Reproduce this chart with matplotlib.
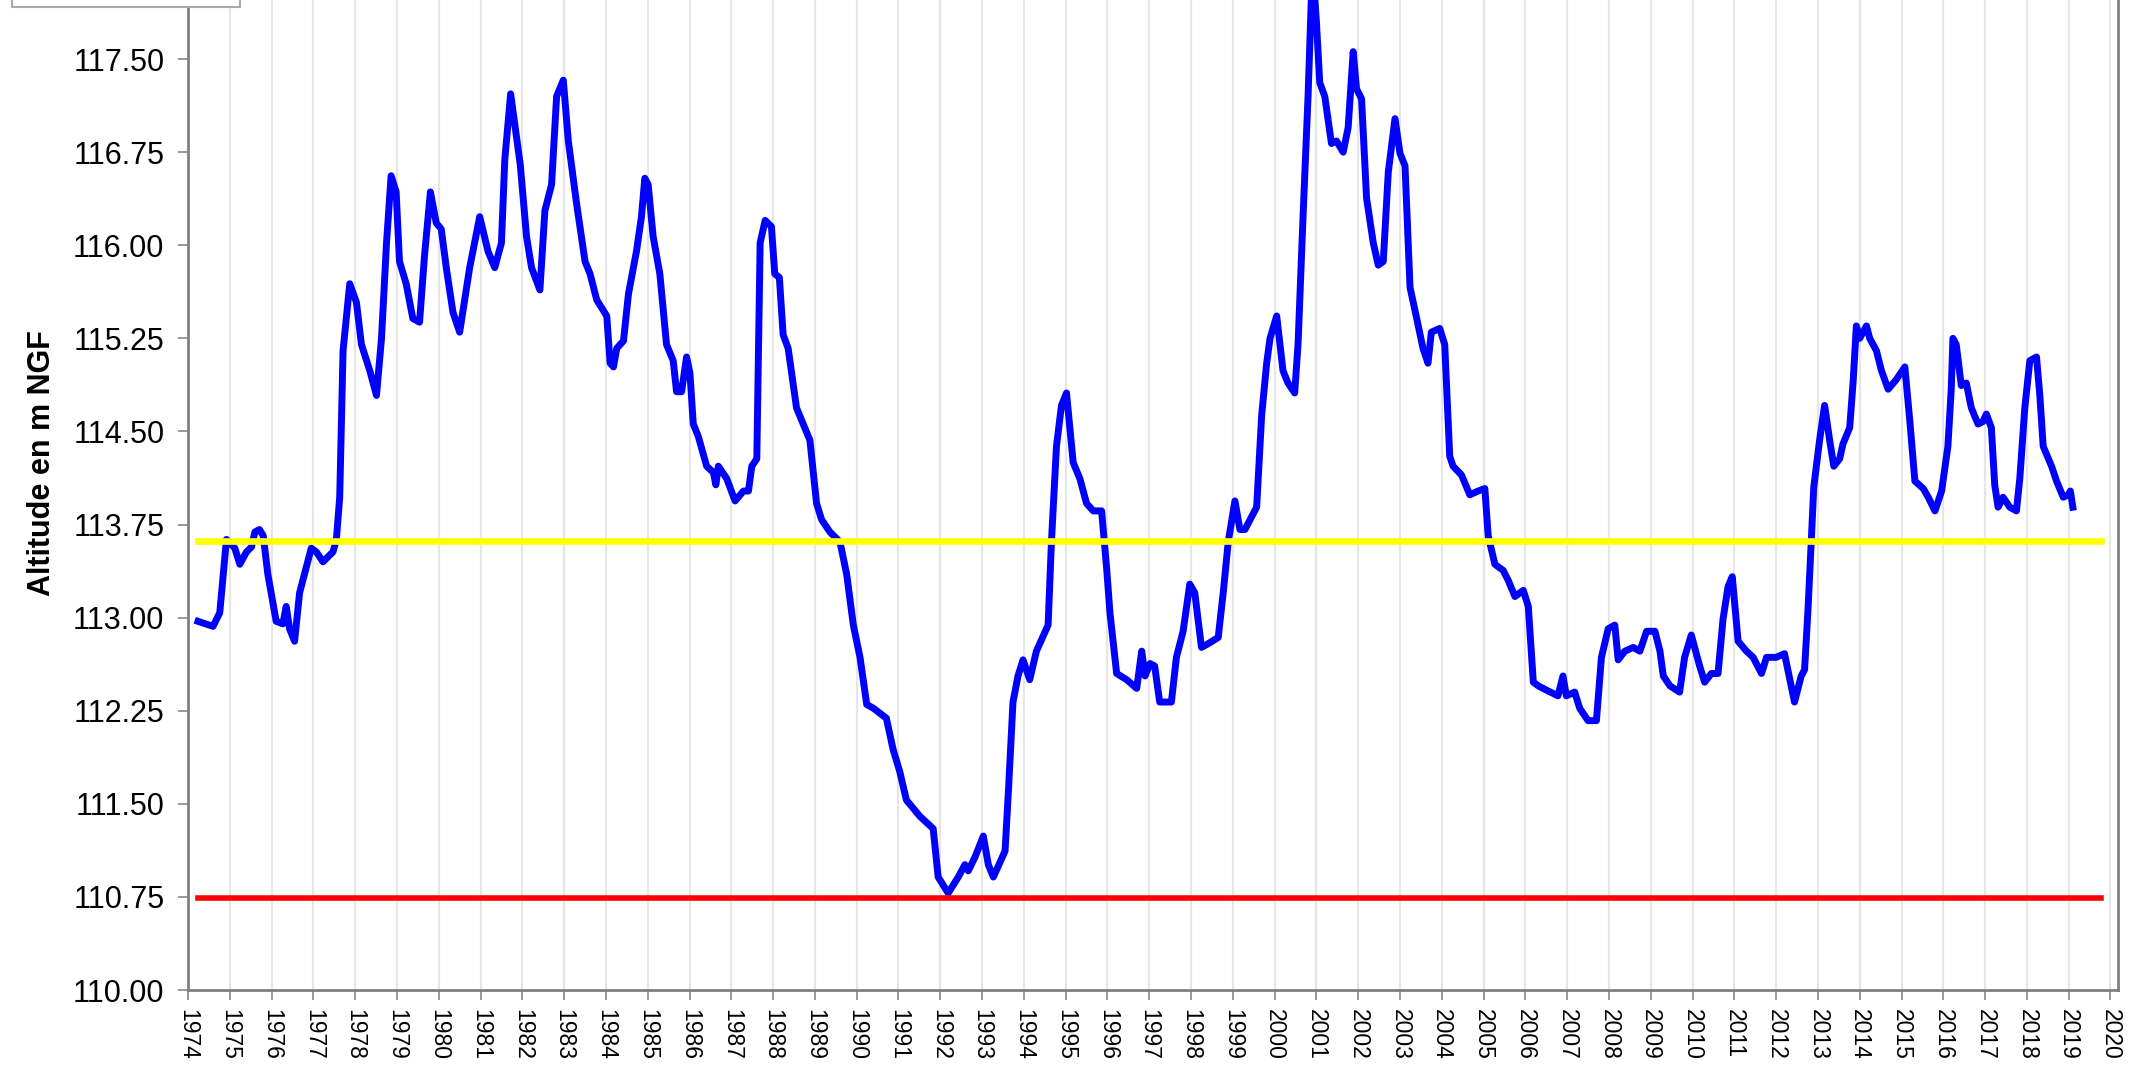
import matplotlib.pyplot as plt
from matplotlib.patches import Rectangle

plt.rcParams['font.family'] = ['Liberation Sans', 'DejaVu Sans']

# niveau piezometrique (annee decimale, altitude m NGF)
years = [
    1974.24, 1974.6, 1974.76, 1974.92, 1975.12, 1975.24, 1975.4, 1975.52, 1975.6, 1975.71,
    1975.8, 1975.91, 1976.11, 1976.27, 1976.35, 1976.43, 1976.55, 1976.67, 1976.95, 1977.07,
    1977.23, 1977.47, 1977.55, 1977.63, 1977.71, 1977.87, 1978.03, 1978.15, 1978.35, 1978.51,
    1978.63, 1978.75, 1978.86, 1978.98, 1979.06, 1979.22, 1979.38, 1979.54, 1979.66, 1979.8,
    1979.94, 1980.06, 1980.18, 1980.34, 1980.5, 1980.74, 1980.98, 1981.18, 1981.34, 1981.5,
    1981.58, 1981.72, 1981.85, 1981.95, 1982.1, 1982.22, 1982.42, 1982.54, 1982.7, 1982.82,
    1982.98, 1983.1, 1983.3, 1983.5, 1983.62, 1983.78, 1984.02, 1984.1, 1984.18, 1984.26,
    1984.42, 1984.54, 1984.73, 1984.85, 1984.93, 1985.01, 1985.13, 1985.29, 1985.45, 1985.61,
    1985.69, 1985.81, 1985.93, 1986.01, 1986.09, 1986.21, 1986.41, 1986.57, 1986.63, 1986.69,
    1986.89, 1987.09, 1987.29, 1987.41, 1987.49, 1987.61, 1987.69, 1987.81, 1987.96, 1988.04,
    1988.15, 1988.24, 1988.36, 1988.56, 1988.72, 1988.88, 1989.04, 1989.16, 1989.36, 1989.6,
    1989.76, 1989.92, 1990.08, 1990.24, 1990.4, 1990.71, 1990.87, 1991.03, 1991.19, 1991.51,
    1991.83, 1991.95, 1992.19, 1992.43, 1992.59, 1992.67, 1992.83, 1993.03, 1993.15, 1993.27,
    1993.55, 1993.63, 1993.74, 1993.86, 1993.98, 1994.14, 1994.3, 1994.58, 1994.66, 1994.78,
    1994.9, 1995.02, 1995.18, 1995.34, 1995.5, 1995.66, 1995.86, 1995.98, 1996.06, 1996.22,
    1996.46, 1996.7, 1996.82, 1996.9, 1997.02, 1997.13, 1997.25, 1997.53, 1997.65, 1997.81,
    1997.97, 1998.09, 1998.25, 1998.41, 1998.65, 1998.77, 1998.89, 1999.05, 1999.17, 1999.29,
    1999.57, 1999.69, 1999.81, 1999.89, 2000.05, 2000.2, 2000.32, 2000.48, 2000.56, 2000.68,
    2000.8, 2000.88, 2000.94, 2001.0, 2001.08, 2001.2, 2001.36, 2001.48, 2001.64, 2001.76,
    2001.88, 2001.96, 2002.08, 2002.2, 2002.36, 2002.48, 2002.6, 2002.72, 2002.88, 2003.0,
    2003.12, 2003.24, 2003.4, 2003.55, 2003.67, 2003.75, 2003.95, 2004.07, 2004.19, 2004.27,
    2004.47, 2004.67, 2004.87, 2005.03, 2005.11, 2005.27, 2005.47, 2005.59, 2005.75, 2005.95,
    2006.07, 2006.19, 2006.31, 2006.54, 2006.78, 2006.9, 2006.98, 2007.18, 2007.3, 2007.5,
    2007.7, 2007.82, 2007.98, 2008.14, 2008.22, 2008.38, 2008.58, 2008.74, 2008.9, 2009.1,
    2009.22, 2009.3, 2009.46, 2009.69, 2009.81, 2009.97, 2010.09, 2010.17, 2010.29, 2010.45,
    2010.61, 2010.73, 2010.85, 2010.95, 2011.09, 2011.29, 2011.45, 2011.65, 2011.77, 2012.0,
    2012.2, 2012.36, 2012.44, 2012.6, 2012.68, 2012.76, 2012.84, 2012.9, 2013.04, 2013.16,
    2013.28, 2013.38, 2013.52, 2013.6, 2013.76, 2013.84, 2013.92, 2014.0, 2014.08, 2014.16,
    2014.24, 2014.4, 2014.52, 2014.68, 2014.88, 2015.08, 2015.2, 2015.32, 2015.52, 2015.64,
    2015.8, 2015.96, 2016.11, 2016.19, 2016.23, 2016.31, 2016.43, 2016.55, 2016.67, 2016.83,
    2016.95, 2017.03, 2017.15, 2017.23, 2017.31, 2017.43, 2017.59, 2017.75, 2017.83, 2017.95,
    2018.07, 2018.23, 2018.31, 2018.39, 2018.59, 2018.71, 2018.87, 2018.99, 2019.04, 2019.1,
]
levels = [
    112.97, 112.93, 113.04, 113.63, 113.56, 113.43, 113.53, 113.57, 113.69, 113.71,
    113.66, 113.35, 112.97, 112.95, 113.09, 112.91, 112.81, 113.20, 113.56, 113.53,
    113.45, 113.53, 113.63, 113.97, 115.15, 115.69, 115.54, 115.20, 114.99, 114.79,
    115.25, 116.02, 116.56, 116.43, 115.87, 115.69, 115.41, 115.38, 115.92, 116.43,
    116.18, 116.13, 115.82, 115.46, 115.30, 115.82, 116.23, 115.95, 115.82, 116.02,
    116.69, 117.22, 116.90, 116.65, 116.07, 115.82, 115.64, 116.28, 116.49, 117.20,
    117.33, 116.84, 116.33, 115.87, 115.77, 115.56, 115.43, 115.05, 115.02, 115.17,
    115.23, 115.61, 115.95, 116.23, 116.54, 116.49, 116.07, 115.77, 115.20, 115.07,
    114.82, 114.82, 115.10, 114.97, 114.56, 114.46, 114.22, 114.17, 114.07, 114.22,
    114.12, 113.94, 114.02, 114.02, 114.22, 114.28, 116.02, 116.20, 116.15, 115.77,
    115.74, 115.28, 115.17, 114.69, 114.56, 114.43, 113.92, 113.79, 113.69, 113.61,
    113.35, 112.94, 112.68, 112.30, 112.27, 112.19, 111.94, 111.76, 111.53, 111.40,
    111.30, 110.91, 110.78, 110.91, 111.01, 110.96, 111.07, 111.24, 111.01, 110.91,
    111.12, 111.60, 112.32, 112.53, 112.66, 112.50, 112.73, 112.94, 113.61, 114.38,
    114.71, 114.81, 114.25, 114.12, 113.92, 113.86, 113.86, 113.40, 113.04, 112.55,
    112.50, 112.43, 112.73, 112.53, 112.63, 112.61, 112.32, 112.32, 112.68, 112.89,
    113.27, 113.20, 112.76, 112.79, 112.84, 113.20, 113.61, 113.94, 113.71, 113.71,
    113.89, 114.63, 115.05, 115.25, 115.43, 114.99, 114.89, 114.81, 115.20, 116.23,
    117.20, 118.00, 118.10, 117.80, 117.31, 117.20, 116.82, 116.84, 116.75, 116.95,
    117.56, 117.26, 117.18, 116.38, 116.02, 115.84, 115.87, 116.59, 117.02, 116.74,
    116.64, 115.66, 115.41, 115.17, 115.05, 115.30, 115.33, 115.20, 114.30, 114.22,
    114.15, 113.99, 114.02, 114.04, 113.66, 113.43, 113.38, 113.30, 113.17, 113.22,
    113.09, 112.48, 112.45, 112.41, 112.37, 112.53, 112.37, 112.40, 112.27, 112.17,
    112.17, 112.68, 112.91, 112.94, 112.66, 112.73, 112.76, 112.73, 112.89, 112.89,
    112.73, 112.53, 112.45, 112.40, 112.68, 112.86, 112.71, 112.61, 112.48, 112.55,
    112.55, 112.99, 113.25, 113.33, 112.81, 112.73, 112.68, 112.55, 112.68, 112.68,
    112.71, 112.45, 112.32, 112.53, 112.58, 113.05, 113.61, 114.05, 114.43, 114.71,
    114.43, 114.22, 114.28, 114.40, 114.53, 114.89, 115.35, 115.25, 115.30, 115.35,
    115.25, 115.15, 114.99, 114.84, 114.92, 115.02, 114.58, 114.10, 114.04, 113.97,
    113.86, 114.02, 114.38, 114.84, 115.25, 115.20, 114.87, 114.89, 114.69, 114.56,
    114.58, 114.64, 114.53, 114.07, 113.89, 113.97, 113.89, 113.86, 114.12, 114.69,
    115.07, 115.10, 114.79, 114.38, 114.22, 114.10, 113.97, 113.99, 114.02, 113.89,
]

# seuils
seuil_years = [1974.24, 2019.78]
seuil_jaune = 113.62
seuil_rouge = 110.74

tick_years = list(range(1974, 2021))
ytick_vals = [110.00, 110.75, 111.50, 112.25, 113.00, 113.75, 114.50, 115.25, 116.00, 116.75, 117.50]

W, H = 2136, 1065
fig = plt.figure(figsize=(W / 100, H / 100), dpi=100)
ax = fig.add_axes([188 / W, 75 / H, (2118 - 188) / W, (990 + 34) / H])

ax.plot(years, levels, color='#0000ff', lw=5, zorder=3, solid_joinstyle='round')
ax.plot(seuil_years, [seuil_jaune, seuil_jaune], color='#ffff00', lw=4.8, zorder=4)
ax.plot(seuil_years, [seuil_rouge, seuil_rouge], color='#ff0000', lw=4, zorder=4)

ax.set_xlim(1974, 2020.18)
ax.set_ylim(110.0, 118.25)
ax.set_xticks(tick_years)
ax.set_xticklabels([str(y) for y in tick_years], rotation=-90, fontsize=16.5)
ax.set_yticks(ytick_vals)
ax.set_yticklabels(['%.2f' % v for v in ytick_vals], fontsize=22)
ax.tick_params(axis='both', direction='out', length=7, width=1.2, color='#888888')
ax.tick_params(axis='y', pad=10)
ax.tick_params(axis='x', pad=7)

ax.grid(True, axis='x', color='#e6e6e6', lw=1.6)
ax.set_axisbelow(True)
for s in ax.spines.values():
    s.set_color('#808080')
    s.set_linewidth(2)

ax.set_ylabel('Altitude en m NGF', fontsize=22, fontweight='bold')
ax.yaxis.set_label_coords(-0.068, 0.5146)

# cadre de legende coupe en haut a gauche
fig.patches.append(Rectangle((12 / W, 1 - 7 / H), 228 / W, 0.05, transform=fig.transFigure,
                             facecolor='white', edgecolor='#aaaaaa', lw=1.5))

fig.savefig('out.png', dpi=100)
